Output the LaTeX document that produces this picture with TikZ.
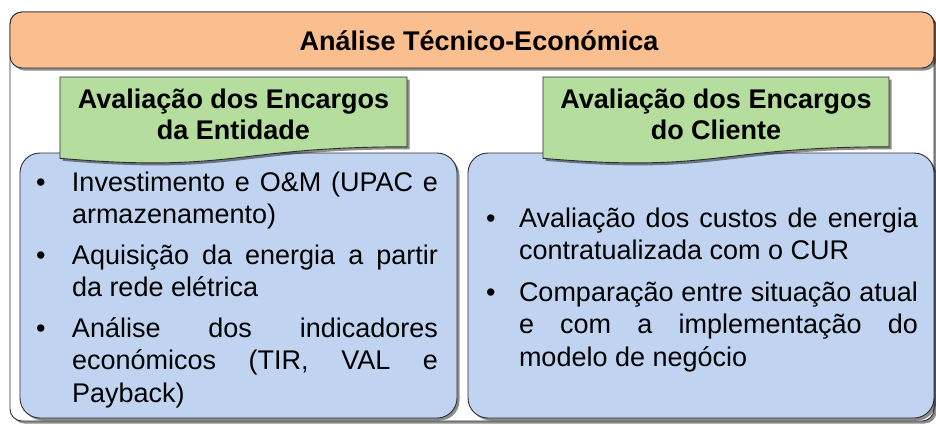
\documentclass[tikz,border=0pt]{standalone}
\usepackage{fontspec}
\setmainfont{Liberation Sans}
\usetikzlibrary{shadows}
\definecolor{hdrfill}{RGB}{251,190,142}
\definecolor{grnfill}{RGB}{181,221,158}
\definecolor{blufill}{RGB}{192,212,242}
\definecolor{edge}{RGB}{45,45,45}
\newcommand{\bul}[1]{\par\noindent\llap{\makebox[#1][l]{\textbullet}}}
\tikzset{
  shd/.style={drop shadow={shadow xshift=2.5pt,shadow yshift=-2.5pt,fill=black,opacity=.45}},
  outerbox/.style={draw=edge,line width=0.9pt,fill=white,rounded corners=12pt,shd},
  hdrbox/.style={draw=edge,line width=0.9pt,fill=hdrfill,rounded corners=12pt,shd},
  blubox/.style={draw=edge,line width=0.9pt,fill=blufill,rounded corners=20pt,shd},
  docbox/.style={draw=edge,line width=0.9pt,fill=grnfill,shd},
  ttl/.style={font=\bfseries\fontsize{27}{31}\selectfont,align=center,inner sep=0pt},
  body/.style={font=\fontsize{27}{32.5}\selectfont,align=justify,inner sep=0pt,anchor=center}
}
\begin{document}
\begin{tikzpicture}[x=1pt,y=-1pt]
\useasboundingbox (0,0) rectangle (936,424);
% outer frame and header
\draw[outerbox] (10,12) rectangle (934,421);
\draw[hdrbox] (10,12) rectangle (934,68);
\node[ttl] (hdr) at (479,41) {Análise Técnico-Económica};
% blue boxes
\draw[blubox] (20,153) rectangle (457,418);
\draw[blubox] (468,153) rectangle (934,418);
% green document shapes
\draw[docbox] (60,77) -- (407,77) -- (407,146.8)
  .. controls (233.5,146.8) and (233.5,173.3) .. (60,158.3) -- cycle;
\draw[docbox] (543,77) -- (889,77) -- (889,146.8)
  .. controls (716,146.8) and (716,173.3) .. (543,158.3) -- cycle;
\node[ttl] (gl) at (233.5,114) {Avaliação dos Encargos\\da Entidade};
\node[ttl] (gr) at (716,114) {Avaliação dos Encargos\\do Cliente};
% bullet texts
\node[body,text width=366pt] (tl) at (255,279.5) {%
\setlength{\parskip}{8pt}%
\bul{36pt}Investimento e O\&M (UPAC e\linebreak armazenamento)
\bul{36pt}Aquisição da energia a partir\linebreak da rede elétrica
\bul{36pt}Análise dos indicadores\linebreak económicos (TIR, VAL e\linebreak Payback)};
\node[body,text width=399pt] (tr) at (718.5,279) {%
\setlength{\parskip}{9pt}%
\bul{33pt}Avaliação dos custos de energia\linebreak contratualizada com o CUR
\bul{33pt}Comparação entre situação atual\linebreak e com a implementação do\linebreak modelo de negócio};
\end{tikzpicture}
\end{document}
